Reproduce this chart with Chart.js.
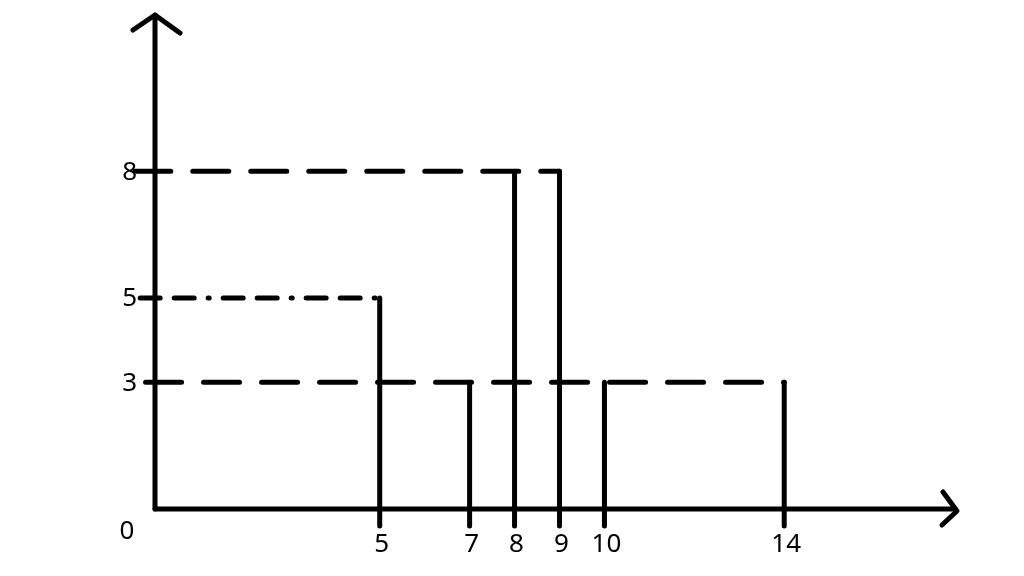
<!DOCTYPE html>
<html>
<head>
<meta charset="utf-8">
<script src="https://cdn.jsdelivr.net/npm/chart.js@4.4.1/dist/chart.umd.min.js"></script>
<style>
  html, body { margin: 0; padding: 0; background: #fff; }
  #wrap { width: 1024px; height: 576px; position: relative; }
</style>
</head>
<body>
<div id="wrap"><canvas id="myChart"></canvas></div>
<script>
// horizontal guides: height, where they stop, dash style
let levels = [8, 5, 3];
let levelEnds = [9, 5, 14];
let levelDash = [[36, 22], [20, 14, 20, 14, 1, 14], [36, 22]];

// vertical drops to the x axis
let drops = [5, 7, 8, 9, 10, 14];
let dropTops = [5, 3, 8, 8, 3, 3];
let stemEnd = -0.4;

let xTickLabels = [5, 7, 8, 9, 10, 14];
let yTickLabels = [3, 5, 8];

let xMax = 17.8;
let yMax = 11.7;

let datasets = [];

// axes
datasets.push({ data: [{x: 0, y: 0}, {x: xMax, y: 0}] });
datasets.push({ data: [{x: 0, y: 0}, {x: 0, y: yMax}] });

levels.forEach((lv, i) => {
  datasets.push({
    data: [{x: -0.45 + i * 0.12, y: lv}, {x: levelEnds[i], y: lv}],
    borderDash: levelDash[i]
  });
});

drops.forEach((d, i) => {
  datasets.push({ data: [{x: d, y: dropTops[i]}, {x: d, y: stemEnd}] });
});

datasets.forEach(ds => {
  ds.showLine = true;
  ds.pointRadius = 0;
  ds.borderColor = '#000';
  ds.borderWidth = 5;
  ds.borderCapStyle = 'round';
  ds.clip = false;
});

let extras = {
  id: 'extras',
  afterDatasetsDraw(chart) {
    let ctx = chart.ctx;
    let xs = chart.scales.x, ys = chart.scales.y;
    let x0 = xs.getPixelForValue(0), y0 = ys.getPixelForValue(0);
    let xEnd = xs.getPixelForValue(xMax), yTop = ys.getPixelForValue(yMax);
    ctx.save();
    ctx.strokeStyle = '#000';
    ctx.lineWidth = 5;
    ctx.lineCap = 'round';
    ctx.lineJoin = 'round';
    // arrow heads
    ctx.beginPath();
    ctx.moveTo(x0 - 22, yTop + 15);
    ctx.lineTo(x0, yTop);
    ctx.lineTo(x0 + 25, yTop + 18);
    ctx.moveTo(xEnd - 12, y0 - 17);
    ctx.lineTo(xEnd + 2, y0 + 2);
    ctx.lineTo(xEnd - 13, y0 + 16);
    ctx.stroke();

    ctx.fillStyle = '#000';
    ctx.font = '26px "Noto Sans", sans-serif';
    ctx.textBaseline = 'middle';
    ctx.textAlign = 'right';
    yTickLabels.forEach(v => {
      ctx.fillText(String(v), x0 - 18, ys.getPixelForValue(v) + 1);
    });
    ctx.textAlign = 'center';
    ctx.fillText('0', x0 - 28, y0 + 23);
    xTickLabels.forEach(v => {
      ctx.fillText(String(v), xs.getPixelForValue(v) + 2, y0 + 36);
    });
    ctx.restore();
  }
};

let chart = new Chart(document.getElementById('myChart').getContext('2d'), {
  type: 'scatter',
  data: { datasets: datasets },
  options: {
    responsive: true,
    maintainAspectRatio: false,
    animation: false,
    layout: { padding: { left: 155, right: 69, top: 15, bottom: 67 } },
    scales: {
      x: { type: 'linear', min: 0, max: xMax, display: false },
      y: { type: 'linear', min: 0, max: yMax, display: false }
    },
    plugins: {
      legend: { display: false },
      tooltip: { enabled: false }
    }
  },
  plugins: [extras]
});
</script>
</body>
</html>
